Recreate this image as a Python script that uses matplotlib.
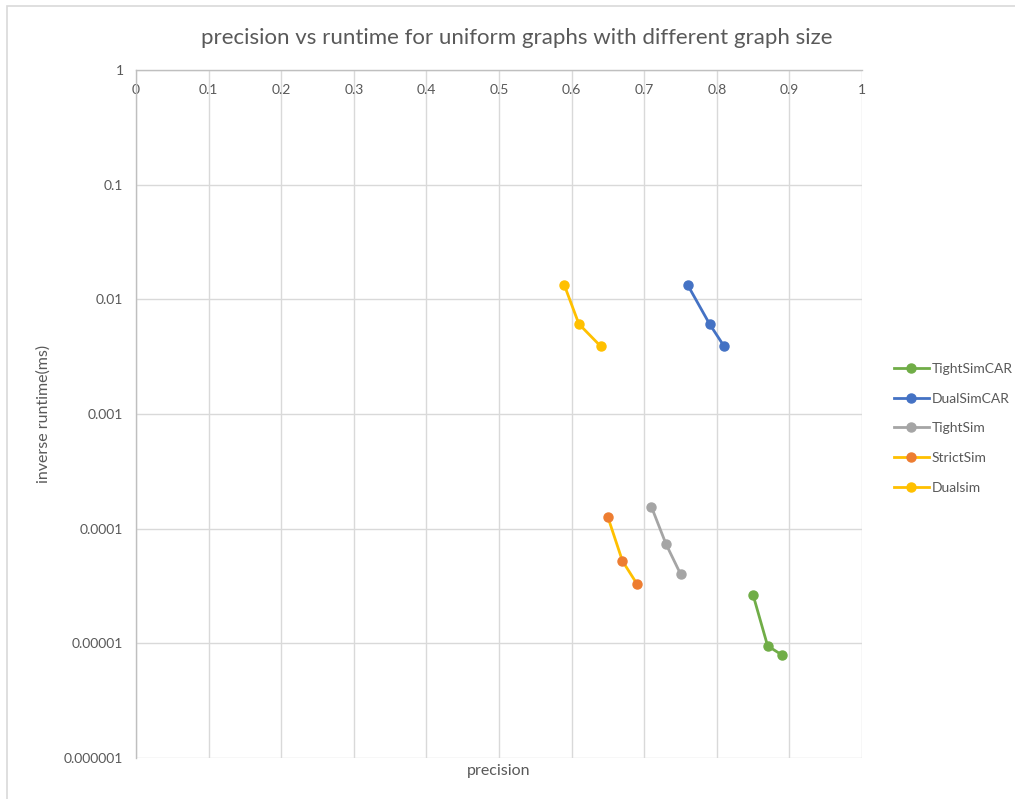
import matplotlib
matplotlib.use("Agg")
import matplotlib.pyplot as plt
from matplotlib.patches import Rectangle

plt.rcParams['font.family'] = ['Lato', 'DejaVu Sans']

# Precision (x) and inverse runtime in ms (y) for each method
series_names = ["TightSimCAR", "DualSimCAR", "TightSim", "StrictSim", "Dualsim"]

tightsimcar_x = [0.85, 0.87, 0.89]
tightsimcar_y = [2.64e-5, 9.5e-6, 7.9e-6]

dualsimcar_x = [0.76, 0.79, 0.81]
dualsimcar_y = [0.0133, 0.0061, 0.0039]

tightsim_x = [0.71, 0.73, 0.75]
tightsim_y = [1.55e-4, 7.35e-5, 4.03e-5]

strictsim_x = [0.65, 0.67, 0.69]
strictsim_y = [1.26e-4, 5.23e-5, 3.3e-5]

dualsim_x = [0.59, 0.61, 0.64]
dualsim_y = [0.0133, 0.0061, 0.0039]

x_ticks = [0, 0.1, 0.2, 0.3, 0.4, 0.5, 0.6, 0.7, 0.8, 0.9, 1]
x_tick_labels = ["0", "0.1", "0.2", "0.3", "0.4", "0.5", "0.6", "0.7", "0.8", "0.9", "1"]
y_ticks = [1e-6, 1e-5, 1e-4, 1e-3, 1e-2, 1e-1, 1]
y_tick_labels = ["0.000001", "0.00001", "0.0001", "0.001", "0.01", "0.1", "1"]

W, H = 1015, 799
fig = plt.figure(figsize=(W / 100, H / 100), dpi=100)
fig.patch.set_facecolor("white")

# outer chart border
fig.patches.append(Rectangle((7 / W, -0.05), 1.2, 1 - 6 / H + 0.05,
                             transform=fig.transFigure, fill=False,
                             edgecolor="#D9D9D9", linewidth=1.2, zorder=0))

ax = fig.add_axes([136 / W, 1 - 758 / H, (862 - 136) / W, (758 - 70) / H])

text_color = "#595959"
grid_color = "#D9D9D9"

styles = [
    (tightsimcar_x, tightsimcar_y, "#70AD47", "#70AD47"),
    (dualsimcar_x, dualsimcar_y, "#4472C4", "#4472C4"),
    (tightsim_x, tightsim_y, "#A5A5A5", "#A5A5A5"),
    (strictsim_x, strictsim_y, "#FFC000", "#ED7D31"),
    (dualsim_x, dualsim_y, "#FFC000", "#FFC000"),
]
for name, (xs, ys, lc, mc) in zip(series_names, styles):
    ax.plot(xs, ys, color=lc, linewidth=2.0, marker="o", markersize=6.5,
            markerfacecolor=mc, markeredgecolor=mc, label=name, zorder=3)

ax.set_yscale("log")
ax.set_xlim(0, 1)
ax.set_ylim(1e-6, 1)

ax.set_yticks(y_ticks)
ax.set_yticklabels(y_tick_labels)
ax.yaxis.set_minor_locator(matplotlib.ticker.NullLocator())
ax.set_xticks(x_ticks)
ax.set_xticklabels(x_tick_labels)

ax.tick_params(axis="y", length=0, pad=9, labelsize=10, labelcolor=text_color)
ax.tick_params(axis="x", bottom=False, labelbottom=False, top=False,
               labeltop=True, length=0, pad=-19, labelsize=10,
               labelcolor=text_color)

ax.grid(True, which="major", color=grid_color, linewidth=1.0, zorder=0)
ax.set_axisbelow(True)
for side in ["right", "bottom"]:
    ax.spines[side].set_visible(False)
ax.spines["left"].set_color("#BFBFBF")
ax.spines["top"].set_color("#BFBFBF")
ax.spines["left"].set_linewidth(1.0)
ax.spines["top"].set_linewidth(1.0)

ax.set_xlabel("precision", color=text_color, fontsize=11.5, labelpad=4)
ax.set_ylabel("inverse runtime(ms)", color=text_color, fontsize=11.5, labelpad=10)

fig.text(517 / W, 1 - 38 / H,
         "precision vs runtime for uniform graphs with different graph size",
         ha="center", va="center", fontsize=16, color=text_color)

leg = ax.legend(loc="upper left", bbox_to_anchor=(894 / W, 1 - 363 / H),
                bbox_transform=fig.transFigure, frameon=False, fontsize=10,
                labelspacing=1.27, handlelength=2.5, handletextpad=0.2,
                borderaxespad=0, borderpad=0)
for t in leg.get_texts():
    t.set_color(text_color)

fig.savefig("out.png", dpi=100, facecolor="white")
